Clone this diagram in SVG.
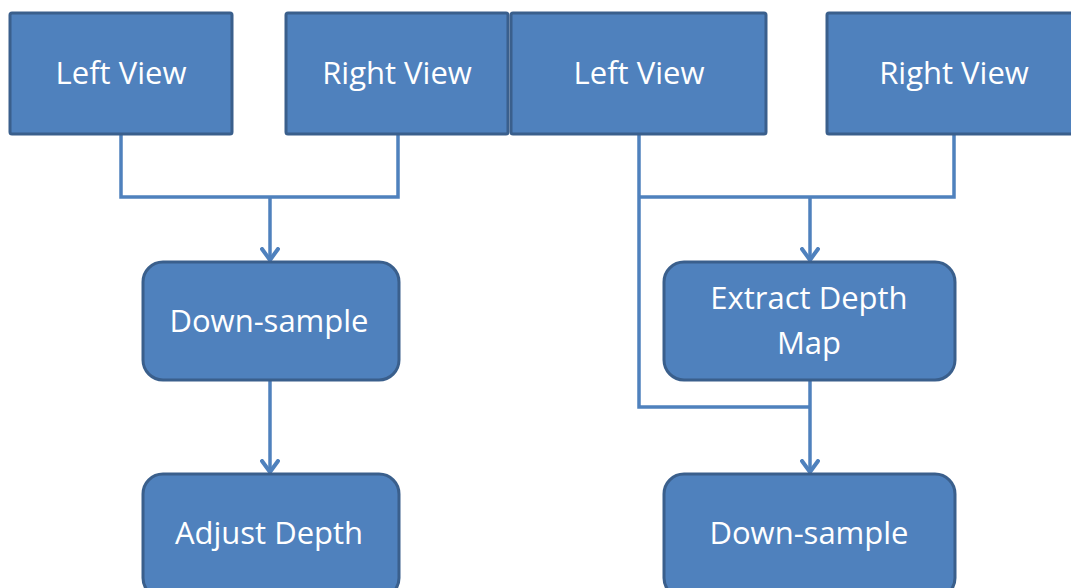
<svg xmlns="http://www.w3.org/2000/svg" width="1071" height="588" viewBox="0 0 1071 588">
<defs>
<style>
.box{fill:#4F81BD;stroke:#3A5F8C;stroke-width:3}
.lbl{font-family:"Open Sans","Liberation Sans",sans-serif;font-size:31px;fill:#FFFFFF;text-anchor:middle;dominant-baseline:central}
.ln{fill:none;stroke:#4F81BD;stroke-width:3.5}
</style>
<marker id="arr" markerWidth="16" markerHeight="20" viewBox="0 0 16 20" refX="13" refY="10" orient="auto" markerUnits="userSpaceOnUse">
<path d="M2,2 L13,10 L2,18" fill="none" stroke="#4F81BD" stroke-width="4" stroke-linecap="round" stroke-linejoin="round"/>
</marker>
</defs>
<rect width="1071" height="588" fill="#FFFFFF"/>
<g id="connectors">
<path class="ln" d="M121,134 V197 H398 V134"/>
<path class="ln" d="M270,197 V260" marker-end="url(#arr)"/>
<path class="ln" d="M270,380 V472" marker-end="url(#arr)"/>
<path class="ln" d="M954,134 V197 H639"/>
<path class="ln" d="M639,134 V407 H810"/>
<path class="ln" d="M810,197 V260" marker-end="url(#arr)"/>
<path class="ln" d="M810,380 V472" marker-end="url(#arr)"/>
</g>
<g id="left-view-1"><rect class="box" x="10" y="13" width="222" height="121" rx="2"/><text class="lbl" x="121" y="72">Left View</text></g>
<g id="right-view-1"><rect class="box" x="286" y="13" width="222" height="121" rx="2"/><text class="lbl" x="397" y="72">Right View</text></g>
<g id="left-view-2"><rect class="box" x="511" y="13" width="255" height="121" rx="2"/><text class="lbl" x="639" y="72">Left View</text></g>
<g id="right-view-2"><rect class="box" x="827" y="13" width="246" height="121" rx="2"/><text class="lbl" x="954" y="72">Right View</text></g>
<g id="down-sample-1"><rect class="box" x="143" y="262" width="256" height="118" rx="20"/><text class="lbl" x="269" y="320">Down-sample</text></g>
<g id="adjust-depth"><rect class="box" x="143" y="474" width="256" height="124" rx="20"/><text class="lbl" x="269" y="532">Adjust Depth</text></g>
<g id="extract-depth-map"><rect class="box" x="664" y="262" width="291" height="118" rx="20"/><text class="lbl" x="809" y="297">Extract Depth</text><text class="lbl" x="809" y="342">Map</text></g>
<g id="down-sample-2"><rect class="box" x="664" y="474" width="291" height="124" rx="20"/><text class="lbl" x="809" y="532">Down-sample</text></g>
</svg>
